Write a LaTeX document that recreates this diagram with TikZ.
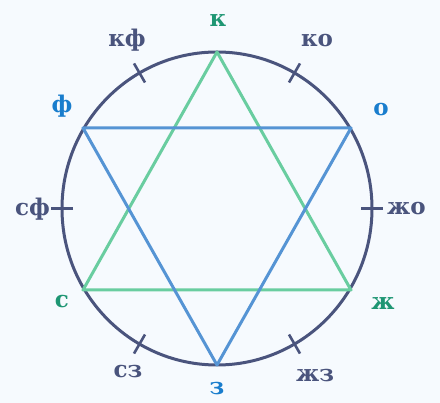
\documentclass[tikz,border=0pt]{standalone}
\usepackage{fontspec}
\setmainfont{DejaVu Serif}
\usetikzlibrary{calc}
\definecolor{navyc}{RGB}{74,84,125}
\definecolor{greenl}{RGB}{30,150,115}
\definecolor{bluel}{RGB}{25,125,205}
\definecolor{greenline}{RGB}{105,205,160}
\definecolor{blueline}{RGB}{85,148,212}
\definecolor{bgc}{RGB}{246,250,254}
\begin{document}
\begin{tikzpicture}[x=1pt,y=-1pt,
  lbl/.style={font=\bfseries\fontsize{23}{23}\selectfont, inner sep=0pt},
  nlbl/.style={lbl, text=navyc},
  glbl/.style={lbl, text=greenl},
  blbl/.style={lbl, text=bluel},
  circ/.style={draw=navyc, line width=3pt},
  tick/.style={draw=navyc, line width=2.6pt},
  gline/.style={draw=greenline, line width=3pt, line join=round},
  bline/.style={draw=blueline, line width=3pt, line join=round}]
\fill[bgc] (0,0) rectangle (440,403);
\useasboundingbox (0,0) rectangle (440,403);
\coordinate (c) at (217,208.5);
\draw[circ] (c) ellipse [x radius=155, y radius=156.5];
% ticks
\foreach \a in {0,60,120,180,240,300}{
  \draw[tick] ($(c)+(\a:144 and -145.5)$) -- ($(c)+(\a:166 and -167.5)$);
}
% vertices
\coordinate (K) at (217,52);
\coordinate (Z) at (217,365);
\coordinate (F) at (83,128);
\coordinate (O) at (351,128);
\coordinate (S) at (83,290);
\coordinate (J) at (351,290);
\draw[gline] (K) -- (S) -- (J) -- cycle;
\draw[bline] (F) -- (O) -- (Z) -- cycle;
% labels
\node[glbl] (lK) at (218,21) {к};
\node[blbl] (lZ) at (217,389) {з};
\node[blbl] (lF) at (62,106) {ф};
\node[blbl] (lO) at (381,110) {о};
\node[glbl] (lS) at (62,302) {с};
\node[glbl] (lJ) at (383,304) {ж};
\node[nlbl] (lKF) at (127,40) {кф};
\node[nlbl] (lKO) at (317,41) {ко};
\node[nlbl, anchor=east] (lSF) at (50,209) {сф};
\node[nlbl, anchor=west] (lJO) at (387,209) {жо};
\node[nlbl] (lSZ) at (128,372) {сз};
\node[nlbl] (lJZ) at (315,376) {жз};
\end{tikzpicture}
\end{document}
